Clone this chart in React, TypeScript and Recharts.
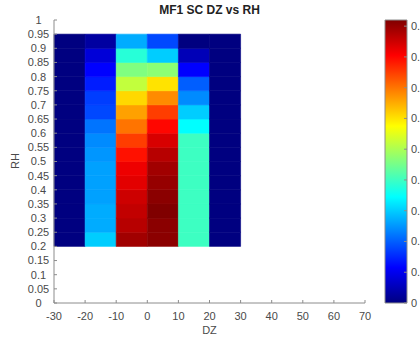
import {
    ScatterChart,
    Scatter,
    ComposedChart,
    XAxis,
    YAxis,
    ReferenceArea
} from "recharts"

// bin edges
const dzEdges = [-30, -20, -10, 0, 10, 20, 30]
const rhEdges = [0.2, 0.25, 0.3, 0.35, 0.4, 0.45, 0.5, 0.55, 0.6, 0.65, 0.7, 0.75, 0.8, 0.85, 0.9, 0.95]

// cell values per DZ column, bottom (RH 0.2) to top (RH 0.95)
const colM25 = [0, 0, 0, 0, 0, 0, 0, 0, 0, 0, 0, 0, 0, 0, 0]
const colM15 = [0.30, 0.27, 0.27, 0.26, 0.26, 0.26, 0.25, 0.24, 0.22, 0.18, 0.17, 0.14, 0.115, 0.08, 0.03]
const colM5 = [0.89, 0.87, 0.86, 0.85, 0.83, 0.82, 0.79, 0.75, 0.70, 0.66, 0.61, 0.52, 0.46, 0.38, 0.27]
const colP5 = [0.91, 0.91, 0.92, 0.91, 0.90, 0.89, 0.87, 0.84, 0.80, 0.75, 0.68, 0.60, 0.47, 0.30, 0.18]
const colP15 = [0.40, 0.40, 0.40, 0.40, 0.40, 0.40, 0.40, 0.40, 0.345, 0.30, 0.24, 0.20, 0.115, 0.05, 0]
const colP25 = [0, 0, 0, 0, 0, 0, 0, 0, 0, 0, 0, 0, 0, 0, 0]
const columns = [colM25, colM15, colM5, colP5, colP15, colP25]

const xTicks = [-30, -20, -10, 0, 10, 20, 30, 40, 50, 60, 70]
const yTicks = [0, 0.05, 0.1, 0.15, 0.2, 0.25, 0.3, 0.35, 0.4, 0.45, 0.5, 0.55, 0.6, 0.65, 0.7, 0.75, 0.8, 0.85, 0.9, 0.95, 1]
const cbarTicks = [0, 0.1, 0.2, 0.3, 0.4, 0.5, 0.6, 0.7, 0.8, 0.9]
const CMAX = 0.92

const jetStops = [0, 0.125, 0.25, 0.375, 0.5, 0.625, 0.75, 0.875, 1]

const FONT = '"Liberation Sans", Arial, sans-serif'
const AXIS = "#8c8c8c"
const TEXT = "#4a4a4a"

function clamp(v: number) {
    return Math.max(0, Math.min(1, v))
}

function jet(t: number) {
    const x = clamp(t)
    const r = clamp(1.5 - Math.abs(4 * x - 3))
    const g = clamp(1.5 - Math.abs(4 * x - 2))
    const b = clamp(1.5 - Math.abs(4 * x - 1))
    return `rgb(${Math.round(r * 255)},${Math.round(g * 255)},${Math.round(b * 255)})`
}

const tickStyle = { fontSize: 11, fill: TEXT, fontFamily: FONT }

// one point per cell centre, so the axes have data
const cellPoints: { x: number; y: number; v: number }[] = []
columns.forEach((col, i) => {
    col.forEach((v, j) => {
        cellPoints.push({
            x: (dzEdges[i] + dzEdges[i + 1]) / 2,
            y: (rhEdges[j] + rhEdges[j + 1]) / 2,
            v
        })
    })
})

const cbarPoints = cbarTicks.map((v) => ({ x: 0.5, y: v }))

const NoShape = () => <g />

export default function App() {
    const cells: any[] = []
    columns.forEach((col, i) => {
        col.forEach((v, j) => {
            const c = jet(v / CMAX)
            cells.push(
                <ReferenceArea
                    key={`${i}-${j}`}
                    xAxisId="b"
                    yAxisId="l"
                    x1={dzEdges[i]}
                    x2={dzEdges[i + 1]}
                    y1={rhEdges[j]}
                    y2={rhEdges[j + 1]}
                    fill={c}
                    fillOpacity={1}
                    stroke={c}
                    strokeWidth={0.6}
                />
            )
        })
    })

    return (
        <div
            style={{
                position: "absolute",
                left: 0,
                top: 0,
                width: 420,
                height: 337,
                background: "#fff",
                fontFamily: FONT,
                overflow: "hidden"
            }}
        >
            <ScatterChart
                width={420}
                height={337}
                margin={{ top: 20, right: 55, bottom: 0, left: 0 }}
                style={{ position: "absolute", left: 0, top: 0 }}
            >
                <XAxis
                    xAxisId="b"
                    type="number"
                    dataKey="x"
                    domain={[-30, 70]}
                    ticks={xTicks}
                    interval={0}
                    height={34}
                    tickSize={-3}
                    tickMargin={12}
                    stroke={AXIS}
                    tick={tickStyle}
                    label={{ value: "DZ", position: "insideBottom", offset: 3, fill: TEXT, fontSize: 11 }}
                />
                <XAxis
                    xAxisId="t"
                    orientation="top"
                    type="number"
                    dataKey="x"
                    domain={[-30, 70]}
                    ticks={xTicks}
                    interval={0}
                    height={0}
                    tickSize={-3}
                    stroke={AXIS}
                    tickFormatter={() => ""}
                />
                <YAxis
                    yAxisId="l"
                    type="number"
                    dataKey="y"
                    domain={[0, 1]}
                    ticks={yTicks}
                    interval={0}
                    width={54}
                    tickSize={-3}
                    tickMargin={18.5}
                    stroke={AXIS}
                    tick={{ ...tickStyle, textAnchor: "middle" }}
                />
                <YAxis
                    yAxisId="r"
                    orientation="right"
                    type="number"
                    dataKey="y"
                    domain={[0, 1]}
                    ticks={yTicks}
                    interval={0}
                    width={0}
                    tickSize={-3}
                    stroke={AXIS}
                    tickFormatter={() => ""}
                />
                {cells}
                <Scatter
                    xAxisId="b"
                    yAxisId="l"
                    data={cellPoints}
                    shape={NoShape}
                    isAnimationActive={false}
                />
                <Scatter
                    xAxisId="t"
                    yAxisId="r"
                    data={cellPoints}
                    shape={NoShape}
                    isAnimationActive={false}
                />
            </ScatterChart>

            <ComposedChart
                width={420}
                height={337}
                margin={{ top: 20, right: 0, bottom: 34, left: 385 }}
                style={{ position: "absolute", left: 0, top: 0 }}
            >
                <defs>
                    <linearGradient id="jetGrad" x1="0" y1="1" x2="0" y2="0">
                        {jetStops.map((s) => (
                            <stop key={s} offset={s} stopColor={jet(s)} />
                        ))}
                    </linearGradient>
                </defs>
                <XAxis type="number" dataKey="x" domain={[0, 1]} hide />
                <YAxis
                    orientation="right"
                    type="number"
                    dataKey="y"
                    domain={[0, CMAX]}
                    ticks={cbarTicks}
                    interval={0}
                    width={13}
                    tickSize={-3}
                    tickMargin={7}
                    axisLine={false}
                    stroke={AXIS}
                    tick={tickStyle}
                />
                <ReferenceArea
                    x1={0}
                    x2={1}
                    y1={0}
                    y2={CMAX}
                    fill="url(#jetGrad)"
                    fillOpacity={1}
                    stroke={AXIS}
                    strokeWidth={1}
                />
                <Scatter data={cbarPoints} shape={NoShape} isAnimationActive={false} />
            </ComposedChart>

            <div
                style={{
                    position: "absolute",
                    left: 0,
                    top: 3,
                    width: 419,
                    textAlign: "center",
                    fontWeight: "bold",
                    fontSize: 12,
                    lineHeight: "14px",
                    color: "#222"
                }}
            >
                MF1 SC DZ vs RH
            </div>
            <div
                style={{
                    position: "absolute",
                    left: 15,
                    top: 161,
                    transform: "translate(-50%, -50%) rotate(-90deg)",
                    fontSize: 11,
                    color: TEXT,
                    lineHeight: "12px"
                }}
            >
                RH
            </div>
        </div>
    )
}
